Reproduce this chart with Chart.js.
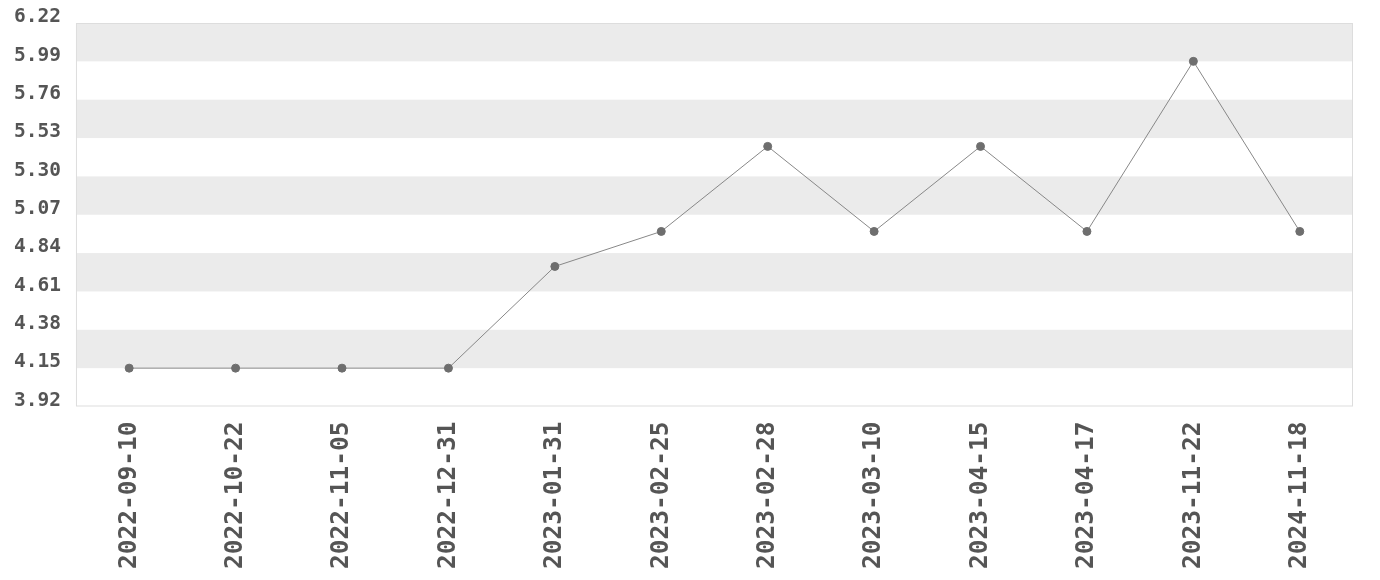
<!DOCTYPE html>
<html>
<head>
<meta charset="utf-8">
<script src="https://cdn.jsdelivr.net/npm/chart.js@4"></script>
<style>
html, body { margin: 0; padding: 0; background: #fff; }
#wrap { width: 1380px; height: 580px; }
</style>
</head>
<body>
<div id="wrap"><canvas id="trendChart"></canvas></div>
<script>
var dates = ["2022-09-10", "2022-10-22", "2022-11-05", "2022-12-31", "2023-01-31", "2023-02-25",
	"2023-02-28", "2023-03-10", "2023-04-15", "2023-04-17", "2023-11-22", "2024-11-18"];
var values = [4.15, 4.15, 4.15, 4.15, 4.76, 4.97, 5.48, 4.97, 5.48, 4.97, 5.99, 4.97];
var yTicks = [3.92, 4.15, 4.38, 4.61, 4.84, 5.07, 5.30, 5.53, 5.76, 5.99, 6.22];

// alternating horizontal bands between y ticks
var bands = {
	id: "bands",
	beforeDraw: function (chart) {
		var c = chart.ctx, area = chart.chartArea, y = chart.scales.y;
		c.save();
		c.fillStyle = "#ebebeb";
		for (var i = yTicks.length - 1; i > 0; i -= 2) {
			var top = y.getPixelForValue(yTicks[i]);
			var bot = y.getPixelForValue(yTicks[i - 1]);
			c.fillRect(area.left, top, area.right - area.left, bot - top);
		}
		c.strokeStyle = "#dddddd";
		c.lineWidth = 1;
		c.strokeRect(area.left + 0.5, area.top + 0.5, area.right - area.left - 1, area.bottom - area.top - 1);
		c.restore();
	},
};

var ctx = document.getElementById("trendChart").getContext("2d");
new Chart(ctx, {
	type: "line",
	data: {
		labels: dates,
		datasets: [
			{
				data: values,
				borderColor: "#888888",
				borderWidth: 1,
				pointBackgroundColor: "#6e6e6e",
				pointBorderColor: "#6e6e6e",
				pointRadius: 4,
				tension: 0,
			},
		],
	},
	options: {
		responsive: true,
		maintainAspectRatio: false,
		animation: false,
		layout: { padding: { top: 23, right: 27, bottom: 4, left: 7 } },
		plugins: { legend: { display: false }, tooltip: { enabled: false } },
		scales: {
			x: {
				offset: true,
				grid: { display: false },
				border: { display: false },
				ticks: {
					color: "#555",
					font: { family: "DejaVu Sans Mono", weight: "bold", size: 24.5 },
					minRotation: 90,
					maxRotation: 90,
					padding: 7,
					autoSkip: false,
				},
			},
			y: {
				min: 3.92,
				max: 6.22,
				afterBuildTicks: function (axis) {
					axis.ticks = yTicks.map(function (v) { return { value: v }; });
				},
				grid: { display: false },
				border: { display: false },
				ticks: {
					color: "#555",
					font: { family: "DejaVu Sans Mono", weight: "bold", size: 19.5, lineHeight: 0.6 },
					padding: 7,
					// empty second line lifts the label slightly above its tick
					callback: function (v) { return [Number(v).toFixed(2), ""]; },
				},
			},
		},
	},
	plugins: [bands],
});
</script>
</body>
</html>
